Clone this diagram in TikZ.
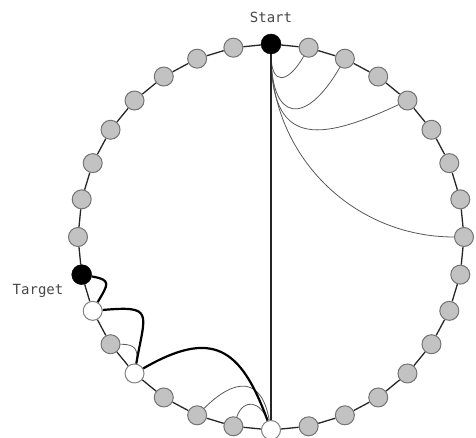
\documentclass[tikz,border=0pt]{standalone}
\usepackage{fontspec}
\newfontfamily\labelfont{DejaVu Sans Mono}
\usetikzlibrary{positioning, backgrounds}

\begin{document}
\begin{tikzpicture}[
    every node/.style={inner sep=0pt},
    peer/.style={circle, draw=black!55, fill=black!24, line width=1pt, minimum size=19pt},
    hop/.style={circle, draw=black!50, fill=white, line width=1pt, minimum size=19pt},
    endpoint/.style={circle, draw=black, fill=black, minimum size=20pt},
    ring/.style={draw=black!85, line width=1.3pt},
    finger/.style={draw=black!65, line width=0.8pt},
    route/.style={draw=black, line width=2.2pt},
    tag/.style={font=\labelfont\fontsize{14}{16}\selectfont, text=black!72}
]

% page size
\useasboundingbox (-271pt,-201pt) rectangle (205pt,237pt);

% ============ RING OF PEERS ============
\node[endpoint] (n0) at (90:193pt) {};
\foreach \i in {1,...,8} \node[peer] (n\i) at ({90+\i*11.25}:193pt) {};
\node[endpoint] (n9) at ({90+9*11.25}:193pt) {};
\node[hop] (n10) at ({90+10*11.25}:193pt) {};
\node[peer] (n11) at ({90+11*11.25}:193pt) {};
\node[hop] (n12) at ({90+12*11.25}:193pt) {};
\foreach \i in {13,14,15} \node[peer] (n\i) at ({90+\i*11.25}:193pt) {};
\node[hop] (n16) at ({90+16*11.25}:193pt) {};
\foreach \i in {17,...,31} \node[peer] (n\i) at ({90+\i*11.25}:193pt) {};

% Labels
\node[tag, above=11pt of n0] (start) {Start};
\node[tag, left=8pt of n9, yshift=-16pt] (target) {Target};

\begin{scope}[on background layer]
% ring links
\foreach \i in {0,...,31} {
    \pgfmathtruncatemacro{\j}{mod(\i+1,32)}
    \draw[ring] (n\i) -- (n\j);
}

% ============ FINGERS OF START ============
\draw[finger] (n0) to[out=-90, in=240, looseness=2.5] (n31);
\draw[finger] (n0) to[out=-90, in=240, looseness=2.5] (n30);
\draw[finger] (n0) to[out=-90, in=205, looseness=1.7] (n28);
\draw[finger] (n0) to[out=-90, in=180, looseness=1.0] (n24);

% Long hop across the ring
\draw[route, draw=black!85, line width=2.8pt] (n0) -- (n16);

% ============ FINGERS NEAR TARGET ============
\draw[finger] (n16) to[out=110, in=70, looseness=1.7] (n15);
\draw[finger] (n16) to[out=100, in=45, looseness=1.7] (n14);
\draw[finger] (n12) to[out=80, in=0, looseness=1.5] (n11);

% Route to target
\draw[route] (n16) to[out=110, in=30, looseness=1.5] (n12);
\draw[route] (n12) to[out=80, in=5, looseness=2.1] (n10);
\draw[route] (n10) to[out=60, in=-10, looseness=2.0] (n9);
\end{scope}

\end{tikzpicture}
\end{document}
